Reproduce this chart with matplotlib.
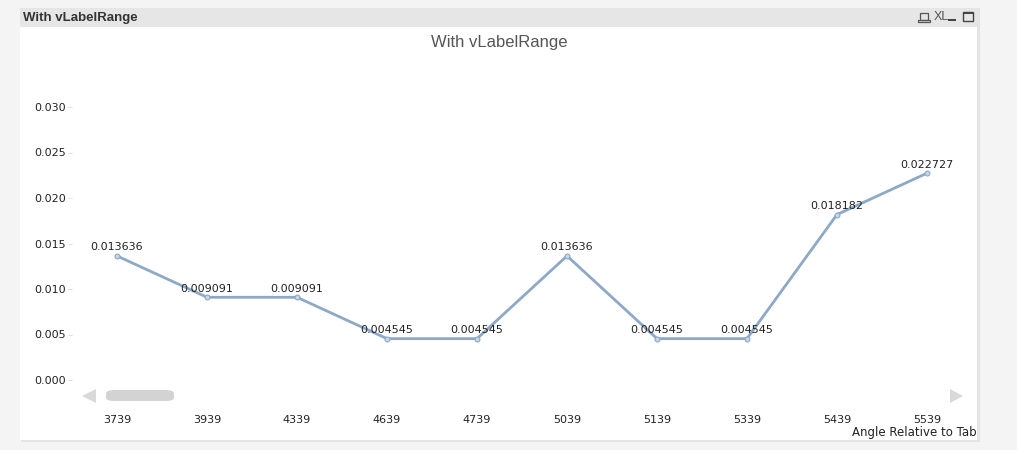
import matplotlib.pyplot as plt
from matplotlib.patches import Rectangle, FancyBboxPatch, Polygon

W, H = 1017, 450

categories = ["3739", "3939", "4339", "4639", "4739", "5039", "5139", "5339", "5439", "5539"]
values = [0.013636, 0.009091, 0.009091, 0.004545, 0.004545,
          0.013636, 0.004545, 0.004545, 0.018182, 0.022727]
labels = ["0.013636", "0.009091", "0.009091", "0.004545", "0.004545",
          "0.013636", "0.004545", "0.004545", "0.018182", "0.022727"]
yticks = [0.000, 0.005, 0.010, 0.015, 0.020, 0.025, 0.030]

plt.rcParams["font.family"] = ["DejaVu Sans"]


def fx(px):
    return px / W


def fy(py):
    return 1 - py / H


fig = plt.figure(figsize=(W / 100, H / 100), dpi=100)
fig.patch.set_facecolor("#f4f4f4")

# panel, shadow and caption bar
fig.patches.append(Rectangle((fx(21), fy(442)), fx(959), fy(8) - fy(442),
                             transform=fig.transFigure, facecolor="#e4e4e4", edgecolor="none", zorder=0))
fig.patches.append(Rectangle((fx(20), fy(440)), fx(957), fy(8) - fy(440),
                             transform=fig.transFigure, facecolor="white", edgecolor="none", zorder=0))
fig.patches.append(Rectangle((fx(20), fy(27)), fx(957), fy(8) - fy(27),
                             transform=fig.transFigure, facecolor="#e6e6e6", edgecolor="none", zorder=0))
fig.text(fx(23), fy(17.5), "With vLabelRange", fontsize=9.5, fontweight="bold",
         color="#333333", va="center", ha="left", family=["Liberation Sans"])

# caption icons
fig.text(fx(934), fy(17), "XL", fontsize=9, color="#555555", va="center", ha="left",
         family=["Liberation Sans"])
fig.patches.append(Rectangle((fx(920), fy(20)), fx(8), fy(13) - fy(20), transform=fig.transFigure,
                             facecolor="none", edgecolor="#555555", lw=0.9))
fig.patches.append(Rectangle((fx(918), fy(22)), fx(12), fy(20) - fy(22), transform=fig.transFigure,
                             facecolor="none", edgecolor="#555555", lw=0.9))
fig.patches.append(Rectangle((fx(948), fy(21)), fx(8), fy(19) - fy(21), transform=fig.transFigure,
                             facecolor="#444444", edgecolor="none"))
fig.patches.append(Rectangle((fx(963), fy(21)), fx(10), fy(12) - fy(21), transform=fig.transFigure,
                             facecolor="none", edgecolor="#444444", lw=1.0))
fig.patches.append(Rectangle((fx(963), fy(14)), fx(10), fy(12) - fy(14), transform=fig.transFigure,
                             facecolor="#444444", edgecolor="none"))

# chart title
fig.text(fx(499), fy(42), "With vLabelRange", fontsize=12, color="#555555",
         ha="center", va="center", family=["Liberation Sans"])

# plot area: category i at pixel 117 + 90*i, value 0 at pixel 380, 0.03 at 107
ax_left, ax_right, ax_top, ax_bot = 72, 972, 100, 395
ax = fig.add_axes([fx(ax_left), fy(ax_bot), fx(ax_right - ax_left), fy(ax_top) - fy(ax_bot)])
ax.set_zorder(5)
ax.set_facecolor("none")
ax.set_xlim(-0.5, 9.5)
ppu = (380 - 107) / 0.030
ax.set_ylim(-(ax_bot - 380) / ppu, (380 - ax_top) / ppu)

xs = list(range(len(categories)))
ax.plot(xs, values, color="#8ea8c8", lw=2.0, solid_capstyle="round", zorder=3)
ax.plot(xs, values, ls="none", marker="o", ms=3.5, markerfacecolor="#c9d6e6",
        markeredgecolor="#8ea8c8", markeredgewidth=0.8, zorder=4)
for x, v, t in zip(xs, values, labels):
    ax.annotate(t, (x, v), xytext=(0, 2.5), textcoords="offset points",
                ha="center", va="bottom", fontsize=8, color="#222222", zorder=5)

for s in ax.spines.values():
    s.set_visible(False)
ax.set_yticks(yticks)
ax.set_yticklabels([f"{t:.3f}" for t in yticks])
ax.tick_params(axis="y", length=3, width=0.6, color="#d8d8d8", labelsize=8,
               labelcolor="#222222", pad=1.5)
ax.set_xticks(xs)
ax.set_xticklabels(categories)
ax.tick_params(axis="x", length=0, labelsize=8, labelcolor="#222222", pad=14.5)

# scrollbar
fig.patches.append(FancyBboxPatch((fx(106), fy(401)), fx(68), fy(390) - fy(401),
                                  boxstyle="round,pad=0,rounding_size=0.008",
                                  transform=fig.transFigure, facecolor="#d3d3d3", edgecolor="none"))
fig.patches.append(Polygon([(fx(82), fy(396)), (fx(96), fy(389)), (fx(96), fy(403))],
                           closed=True, transform=fig.transFigure, facecolor="#d9d9d9", edgecolor="none"))
fig.patches.append(Polygon([(fx(963), fy(396)), (fx(950), fy(389)), (fx(950), fy(403))],
                           closed=True, transform=fig.transFigure, facecolor="#d9d9d9", edgecolor="none"))

fig.text(fx(977), fy(432.5), "Angle Relative to Tab", fontsize=8.5, color="#222222",
         ha="right", va="center")

fig.savefig("out.png", dpi=100, facecolor=fig.get_facecolor())
